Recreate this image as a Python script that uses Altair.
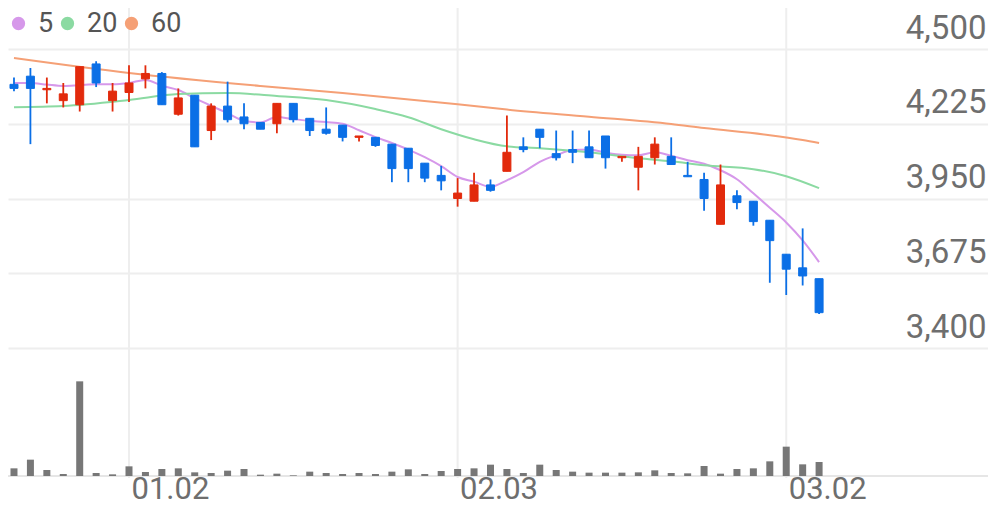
import altair as alt
import pandas as pd

# ---------------- data ----------------
day = list(range(50))
open_ = [4370, 4400, 4350, 4310, 4295, 4445, 4310, 4340, 4390, 4410,
         4260, 4330, 4200, 4290, 4250, 4230, 4225, 4300, 4245, 4205,
         4220, 4175, 4175, 4150, 4135, 4080, 4035, 3950, 3940, 4000,
         4050, 4140, 4205, 4115, 4130, 4140, 4180, 4100, 4065, 4100,
         4105, 4035, 4020, 3855, 3960, 3940, 3870, 3745, 3695, 3655]
high = [4395, 4430, 4395, 4375, 4435, 4455, 4375, 4440, 4440, 4415,
        4355, 4330, 4300, 4380, 4300, 4230, 4300, 4300, 4245, 4285,
        4220, 4180, 4175, 4150, 4135, 4080, 4070, 4025, 4045, 4020,
        4255, 4175, 4205, 4200, 4200, 4200, 4180, 4105, 4140, 4175,
        4175, 4085, 4045, 4075, 3980, 3940, 3870, 3745, 3840, 3655]
low = [4345, 4150, 4300, 4285, 4270, 4360, 4270, 4305, 4355, 4295,
       4255, 4140, 4165, 4230, 4205, 4205, 4190, 4230, 4180, 4185,
       4160, 4160, 4140, 4010, 4010, 4010, 3980, 3920, 3940, 3975,
       4050, 4120, 4135, 4090, 4080, 4100, 4060, 4085, 3980, 4075,
       4075, 4030, 3905, 3855, 3910, 3850, 3640, 3595, 3630, 3525]
close = [4355, 4355, 4355, 4335, 4435, 4375, 4345, 4375, 4410, 4295,
         4320, 4140, 4290, 4240, 4225, 4205, 4300, 4240, 4200, 4190,
         4175, 4180, 4145, 4060, 4060, 4025, 4015, 3970, 4000, 3980,
         4120, 4130, 4175, 4100, 4120, 4100, 4100, 4105, 4105, 4150,
         4075, 4030, 3950, 4000, 3935, 3865, 3795, 3690, 3665, 3530]
volume = [230, 490, 180, 60, 2840, 90, 50, 290, 120, 210,
          230, 110, 90, 160, 210, 40, 70, 20, 130, 90,
          60, 90, 60, 130, 200, 60, 150, 210, 230, 340,
          210, 90, 340, 180, 130, 100, 100, 100, 110, 170,
          90, 80, 300, 70, 210, 230, 440, 880, 350, 420]

ma5 = [4375, 4375, 4369, 4364, 4367, 4370, 4370, 4375, 4386, 4365,
       4349, 4319, 4291, 4264, 4236, 4230, 4250, 4242, 4236, 4231,
       4225, 4201, 4176, 4154, 4130, 4102, 4069, 4029, 4012, 3993,
       4017, 4047, 4085, 4109, 4128, 4130, 4119, 4111, 4109, 4120,
       4107, 4091, 4078, 4054, 4021, 3969, 3916, 3862, 3796, 3716]
ma20_day = [0, 3, 7, 10, 13, 16, 19, 22, 24, 26, 28, 30, 32, 35, 38, 40, 42, 45, 47, 49]
ma20 = [4286, 4290, 4312, 4334, 4338, 4327, 4312, 4279, 4249, 4205,
        4168, 4142, 4135, 4120, 4098, 4087, 4072, 4058, 4032, 3988]
ma60_day = [0, 7, 15, 20, 27, 30, 35, 40, 42, 46, 48, 49]
ma60 = [4467, 4412, 4364, 4338, 4297, 4277, 4251, 4224, 4209, 4183, 4165, 4154]

ma_names = ["5", "20", "60"]
tick_days = [7, 27, 47]
tick_labels = ["01.02", "02.03", "03.02"]
price_ticks = [3400, 3675, 3950, 4225, 4500]

# ---------------- styling / layout ----------------
RED = "#e22a0c"
BLUE = "#0b6fe6"
VOL = "#777777"
MA_COLORS = ["#d698ea", "#8bdaa2", "#f5a076"]
GRID = "#eeeeee"
LABEL = "#6e6e6e"
FONT = "Roboto"

W, H = 980, 470
X_DOMAIN = [-0.06, 58.976]

df = pd.DataFrame({"i": day, "open": open_, "high": high, "low": low,
                   "close": close, "volume": volume})
ma_df = pd.concat([
    pd.DataFrame({"i": day, "value": ma5, "ma": ma_names[0]}),
    pd.DataFrame({"i": ma20_day, "value": ma20, "ma": ma_names[1]}),
    pd.DataFrame({"i": ma60_day, "value": ma60, "ma": ma_names[2]}),
], ignore_index=True)
tick_df = pd.DataFrame({"i": tick_days, "label": tick_labels})

label_expr = "[" + ",".join(f"'{s}'" for s in tick_labels) + "][indexof([" + \
    ",".join(str(v) for v in tick_days) + "], datum.value)]"

x_axis = alt.Axis(values=tick_days, labelExpr=label_expr, title=None, grid=False,
                  ticks=False, tickSize=0, domain=False,
                  labelFontSize=31, labelColor=LABEL, labelFont=FONT, labelAlign="left",
                  labelOffset=2, labelBaseline="middle", labelPadding=11, labelFlush=False)
x_scale = alt.Scale(domain=X_DOMAIN, nice=False, zero=False)

def X():
    return alt.X("i:Q", scale=x_scale, axis=x_axis)

y_axis = alt.Axis(orient="right", values=price_ticks, format=",.0f", title=None, grid=True,
                  gridColor=GRID, gridWidth=2, ticks=False, tickSize=0, domain=False,
                  labelFontSize=33, labelColor=LABEL, labelFont=FONT, labelAlign="right",
                  labelBaseline="alphabetic", labelPadding=-2, labelOffset=-11,
                  labelFlush=False)
p_scale = alt.Scale(domain=[3400, 4500], range=[340, 41], nice=False, zero=False)
v_scale = alt.Scale(domain=[0, 3000], range=[468, 368], nice=False, zero=True)
ma_scale = alt.Scale(domain=ma_names, range=MA_COLORS)

updown = alt.when(alt.datum.close >= alt.datum.open).then(alt.value(RED)).otherwise(alt.value(BLUE))

base = alt.Chart(df)

vgrid = alt.Chart(tick_df).mark_rule(color=GRID, strokeWidth=2).encode(x=X())

ma_lines = alt.Chart(ma_df).mark_line(strokeWidth=2, interpolate="monotone").encode(
    x=X(),
    y=alt.Y("value:Q", scale=p_scale, axis=y_axis),
    color=alt.Color("ma:N", scale=ma_scale, legend=None),
)

legend_layer = alt.Chart(ma_df).transform_filter("false").mark_circle(opacity=1, size=177).encode(
    color=alt.Color("ma:N", scale=ma_scale,
                    legend=alt.Legend(orient="none", legendX=-3, legendY=2, direction="horizontal",
                                      title=None, symbolType="circle", symbolSize=177,
                                      symbolStrokeWidth=0, symbolOpacity=1, gridAlign="none",
                                      labelFontSize=27, labelFont=FONT, labelColor="#555555",
                                      labelOffset=6, columnPadding=0)),
)

wicks = base.mark_rule(strokeWidth=1.8).encode(
    x=X(),
    y=alt.Y("high:Q", scale=p_scale, axis=y_axis),
    y2="low:Q",
    color=updown,
)

bodies = base.mark_bar(size=8, strokeWidth=1).encode(
    x=X(),
    y=alt.Y("open:Q", scale=p_scale, axis=y_axis),
    y2="close:Q",
    color=updown,
    stroke=updown,
)

lines_and_legend = alt.layer(ma_lines, legend_layer).resolve_scale(color="independent").resolve_legend(color="independent")
price = alt.layer(lines_and_legend, wicks, bodies)

vol_bars = base.mark_bar(size=7, color=VOL).encode(
    x=X(),
    y=alt.Y("volume:Q", scale=v_scale, axis=None),
)
vol_base = base.mark_rule(color="#e6e6e6", strokeWidth=2).encode(
    y=alt.datum(0, scale=v_scale, axis=None),
)
vol = alt.layer(vol_base, vol_bars)

chart = alt.layer(vgrid, price, vol).resolve_scale(y="independent").properties(
    width=W, height=H, autosize="none",
    padding={"left": 0, "top": 0, "right": 0, "bottom": 28},
).configure(font=FONT).configure_view(stroke=None)

chart.save("out.html", embed_options={"renderer": "svg", "actions": False})
